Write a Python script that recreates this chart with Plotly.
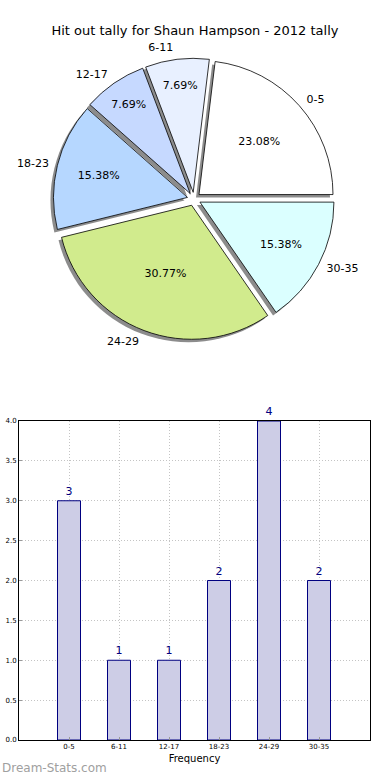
import plotly.graph_objects as go

# ---- data ----
categories = ["0-5", "6-11", "12-17", "18-23", "24-29", "30-35"]
counts = [3, 1, 1, 2, 4, 2]
slice_colors = ["#ffffff", "#e8f0ff", "#c6d9ff", "#b6d7ff", "#d1eb8d", "#dbffff"]
y_tick_vals = [0.0, 0.5, 1.0, 1.5, 2.0, 2.5, 3.0, 3.5, 4.0]

title_text = "Hit out tally for Shaun Hampson - 2012 tally"

# ---- layout constants ----
W, H = 390, 780
FONT = "DejaVu Sans"
PIE_CX, PIE_CY, PIE_R = 194, 199, 134
LABEL_R = 139
PULL = 0.05

# first slice starts at 3 o'clock and runs counterclockwise (as in the reference)
rotation = 90 - 360.0 * counts[0] / sum(counts)


def pie_domain(cx, cy, r):
    half = r * (1 + PULL)
    return dict(x=[(cx - half) / W, (cx + half) / W],
                y=[1 - (cy + half) / H, 1 - (cy - half) / H])


common = dict(labels=categories, values=counts, sort=False,
              direction="counterclockwise", rotation=rotation,
              pull=[PULL] * len(categories), showlegend=False)

fig = go.Figure()

# shadow
fig.add_trace(go.Pie(**common,
                     marker=dict(colors=["rgba(0,0,0,0.45)"] * len(categories),
                                 line=dict(width=0)),
                     textinfo="none", hoverinfo="skip",
                     domain=pie_domain(PIE_CX - 3, PIE_CY + 3, PIE_R)))
# main slices with percentages
fig.add_trace(go.Pie(**common,
                     marker=dict(colors=slice_colors,
                                 line=dict(color="black", width=0.8)),
                     texttemplate="%{percent:.2%}", textposition="inside",
                     insidetextorientation="horizontal",
                     textfont=dict(family=FONT, size=11, color="black"),
                     domain=pie_domain(PIE_CX, PIE_CY, PIE_R)))
# outside category labels
fig.add_trace(go.Pie(**common,
                     marker=dict(colors=["rgba(0,0,0,0)"] * len(categories),
                                 line=dict(width=0)),
                     textinfo="label", textposition="outside",
                     textfont=dict(family=FONT, size=11, color="black"),
                     hoverinfo="skip",
                     domain=pie_domain(PIE_CX, PIE_CY, LABEL_R)))

# bar chart
fig.add_trace(go.Bar(x=categories, y=counts, width=0.46,
                     marker=dict(color="#cdcde6", line=dict(color="#000080", width=1)),
                     text=counts, textposition="outside", cliponaxis=False,
                     textfont=dict(family=FONT, size=11, color="#000080"),
                     showlegend=False))

grid = dict(showgrid=True, gridcolor="#c4c4c4", griddash="1px,2px", gridwidth=1,
            showline=True, linecolor="black", linewidth=1, mirror=True,
            ticks="inside", ticklen=3, tickcolor="#999999", zeroline=False)

fig.update_layout(
    width=W, height=H,
    margin=dict(l=0, r=0, t=0, b=0),
    paper_bgcolor="white", plot_bgcolor="white",
    template="none",
    font=dict(family=FONT, color="black"),
    title=dict(text=title_text, x=0.5, xanchor="center", y=1 - 30 / H,
               yanchor="middle", font=dict(family=FONT, size=13, color="black")),
    xaxis=dict(domain=[19 / W, 370 / W], range=[-1, 6.02], type="category",
               tickfont=dict(size=7), title=dict(text="Frequency", font=dict(size=10), standoff=4),
               **grid),
    yaxis=dict(domain=[1 - 740 / H, 1 - 421 / H], range=[0, 4],
               tickvals=y_tick_vals, tickformat=".1f",
               tickfont=dict(size=7), **grid),
    annotations=[dict(text="Dream-Stats.com", xref="paper", yref="paper",
                      x=0, y=3 / H, xanchor="left", yanchor="bottom", showarrow=False,
                      font=dict(family=FONT, size=12, color="#a0a0a0"))],
)

fig.write_html("out.html", config={"displayModeBar": False},
               post_script="document.body.style.margin='0';")
